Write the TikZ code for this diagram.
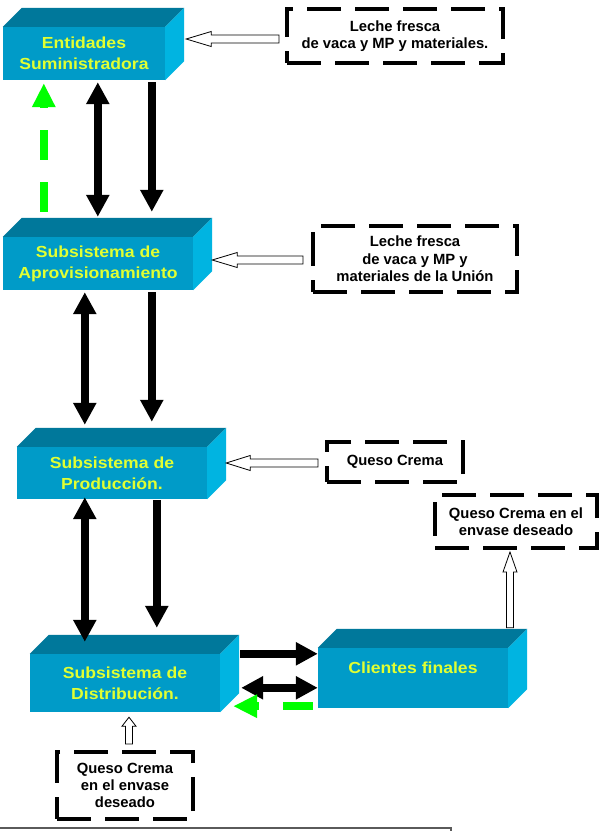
\documentclass[tikz,border=0pt]{standalone}
\usepackage{fontspec}
\setmainfont{Liberation Sans}
\newfontfamily\boxfont{Liberation Sans}[FakeStretch=1.1]
\usetikzlibrary{arrows.meta,calc}
\definecolor{frontc}{RGB}{0,155,200}
\definecolor{topc}{RGB}{0,120,155}
\definecolor{sidec}{RGB}{0,180,225}
\definecolor{ylw}{RGB}{225,255,50}
\definecolor{grn}{RGB}{0,255,0}
\definecolor{frame}{RGB}{90,90,90}
\newcommand\cubefaces[1]{%
  \fill[topc] (#1.north west) -- ++(19,-19) -- ($(#1.north east)+(19,-19)$) -- (#1.north east) -- cycle;
  \fill[sidec] (#1.north east) -- ++(19,-19) -- ($(#1.south east)+(19,-19)$) -- (#1.south east) -- cycle;}
\newcommand\hollowleft[3]{%
  \draw[hol] let \p1=(#1),\p2=(#2) in (\x2,\y2) -- (\x2+#3,\y2+7.5pt) -- (\x2+#3,\y2+4pt) -- (\x1,\y2+4pt) -- (\x1,\y2-4pt) -- (\x2+#3,\y2-4pt) -- (\x2+#3,\y2-7.5pt) -- cycle;}
\newcommand\hollowup[3]{%
  \draw[hol] let \p1=(#1),\p2=(#2) in (\x2,\y2) -- (\x2+7pt,\y2-#3) -- (\x2+3.5pt,\y2-#3) -- (\x2+3.5pt,\y1) -- (\x2-3.5pt,\y1) -- (\x2-3.5pt,\y2-#3) -- (\x2-7pt,\y2-#3) -- cycle;}
\begin{document}
\begin{tikzpicture}[x=1pt,y=-1pt,
  front/.style={fill=frontc, inner sep=0pt, text=ylw, align=center,
    font={\boxfont\bfseries\fontsize{16}{21}\selectfont}},
  dbox/.style={draw=black, line width=4pt, dash pattern=on 34pt off 14pt, inner sep=0pt,
    align=center, font={\bfseries\fontsize{14.8}{17.3}\selectfont}},
  hol/.style={draw=black, fill=white, line width=0.8pt},
  blk/.style={line width=7.5pt, black},
  tip/.style={Triangle[width=22pt,length=22pt]},
  one/.style={blk, -{Triangle[width=22pt,length=22pt]}},
  two/.style={blk, {Triangle[width=22pt,length=22pt]}-{Triangle[width=22pt,length=22pt]}},
  gdash/.style={line width=7.5pt, grn, dash pattern=on 30pt off 22pt, -{Triangle[width=22pt,length=24pt]}}
]
\useasboundingbox (0,0) rectangle (600,831);
\fill[white] (0,0) rectangle (600,831);

% boxes
\node[front, minimum width=162pt, minimum height=53pt] (b1) at (84,53.5) {Entidades\\Suministradora};
\cubefaces{b1}
\node[front, minimum width=190pt, minimum height=53pt] (b2) at (98,263.5) {Subsistema de\\Aprovisionamiento};
\cubefaces{b2}
\node[front, minimum width=190pt, minimum height=52pt] (b3) at (112,473) {Subsistema de\\Producción.};
\cubefaces{b3}
\node[front, minimum width=190pt, minimum height=58pt] (b4) at (125,683) {Subsistema de\\Distribución.};
\cubefaces{b4}
\node[front, minimum width=190pt, minimum height=60pt] (b5) at (413,678) {Clientes finales\\\phantom{X}};
\cubefaces{b5}

% dashed boxes
\node[dbox, minimum width=216pt, minimum height=54pt] (d1) at (395,36) {Leche fresca\\de vaca y MP y materiales.};
\node[dbox, minimum width=204pt, minimum height=66pt] (d2) at (415,259) {Leche fresca\\de vaca y MP y\\materiales de la Unión};
\node[dbox, minimum width=136pt, minimum height=40pt] (d3) at (395,462) {Queso Crema};
\node[dbox, minimum width=162pt, minimum height=53pt] (d4) at (516,521.5) {Queso Crema en el\\envase deseado};
\node[dbox, minimum width=136pt, minimum height=67pt] (d5) at (125,785.5) {Queso Crema\\en el envase\\deseado};

% hollow arrows
\hollowleft{[xshift=-6pt]d1.west}{[xshift=21pt,yshift=14.5pt]b1.east}{25pt}
\hollowleft{[xshift=-8pt]d2.west}{[xshift=19pt,yshift=3.5pt]b2.east}{25pt}
\hollowleft{[xshift=-7pt]d3.west}{[xshift=19pt,yshift=10pt]b3.east}{24pt}
\hollowup{[yshift=20pt]b5.north}{[xshift=-6pt,yshift=-2pt]d4.south}{20pt}
\hollowup{[xshift=4pt,yshift=6pt]d5.north}{[xshift=4pt,yshift=-5pt]b4.south}{9pt}

% black arrows
\draw[two] ($(b1.south west)+(95,2)$) -- ($(b2.north west)+(95,-20)$);
\draw[one] ($(b1.south west)+(149,2)$) -- ($(b2.north west)+(149,-25)$);
\draw[gdash] ($(b2.north west)+(41,-25)$) -- ($(b1.south west)+(41,3)$);
\draw[two] ($(b2.south west)+(82,2)$) -- ($(b3.north west)+(68,-22)$);
\draw[one] ($(b2.south west)+(149,2)$) -- ($(b3.north west)+(135,-25)$);
\draw[two] ($(b3.south west)+(68,-2)$) -- ($(b4.north west)+(55,-12)$);
\draw[one] ($(b3.south west)+(140,1)$) -- ($(b4.north west)+(127,-26)$);
\draw[one] ($(b4.north east)+(20,0)$) -- ($(b5.north west)+(0,6)$);
\draw[two] ($(b4.north east)+(21,34)$) -- ($(b5.north west)+(0,40)$);
\draw[gdash, dash pattern=on 30pt off 24pt] ($(b5.south west)+(-5,-2)$) -- ($(b4.south east)+(13,-6)$);

% frame of the cut-off box below
\draw[frame, line width=1.2pt] (0,828) -- (451,828) -- (451,833);
\end{tikzpicture}
\end{document}
